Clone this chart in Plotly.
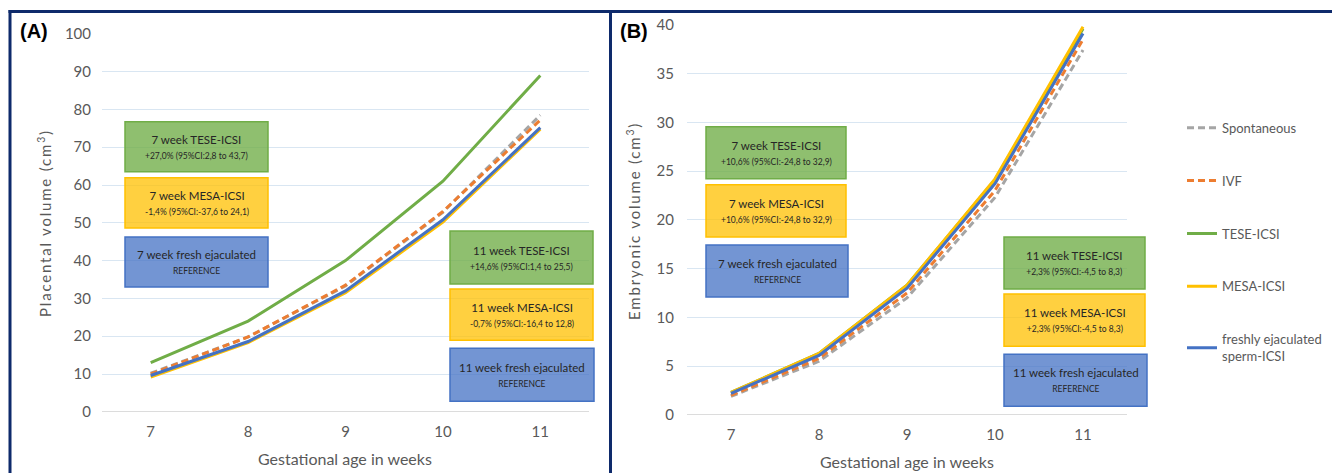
import plotly.graph_objects as go

W, H = 1332, 473

weeks = [7, 8, 9, 10, 11]
series_names = ["Spontaneous", "IVF", "TESE-ICSI", "MESA-ICSI", "freshly ejaculated<br>sperm-ICSI"]
series_colors = ["#A5A5A5", "#ED7D31", "#70AD47", "#FFC000", "#4472C4"]
series_dash = ["7px,4px", "7px,4px", "solid", "solid", "solid"]

# Panel A: placental volume (cm3)
plac_spont = [10.2, 19.8, 33.3, 52.8, 78.5]
plac_ivf = [10.0, 19.8, 33.5, 53.0, 77.2]
plac_tese = [13.0, 24.0, 40.0, 61.0, 89.0]
plac_mesa = [9.2, 18.3, 31.5, 50.2, 74.8]
plac_fresh = [9.6, 18.6, 32.0, 50.8, 75.2]

# Panel B: embryonic volume (cm3)
emb_spont = [1.9, 5.5, 12.0, 22.3, 37.4]
emb_ivf = [2.0, 5.8, 12.5, 23.0, 38.5]
emb_tese = [2.3, 6.3, 13.3, 24.1, 39.6]
emb_mesa = [2.3, 6.3, 13.3, 24.2, 39.8]
emb_fresh = [2.2, 6.1, 13.0, 23.7, 39.1]

plac = [plac_spont, plac_ivf, plac_tese, plac_mesa, plac_fresh]
emb = [emb_spont, emb_ivf, emb_tese, emb_mesa, emb_fresh]

box_texts_A = [
    ("7 week TESE-ICSI", "+27,0% (95%CI:2,8 to 43,7)"),
    ("7 week MESA-ICSI", "-1,4% (95%CI:-37,6 to 24,1)"),
    ("7 week fresh ejaculated", "REFERENCE"),
    ("11 week TESE-ICSI", "+14,6% (95%CI:1,4 to 25,5)"),
    ("11 week MESA-ICSI", "-0,7% (95%CI:-16,4 to 12,8)"),
    ("11 week fresh ejaculated", "REFERENCE"),
]
box_texts_B = [
    ("7 week TESE-ICSI", "+10,6% (95%CI:-24,8 to 32,9)"),
    ("7 week MESA-ICSI", "+10,6% (95%CI:-24,8 to 32,9)"),
    ("7 week fresh ejaculated", "REFERENCE"),
    ("11 week TESE-ICSI", "+2,3% (95%CI:-4,5 to 8,3)"),
    ("11 week MESA-ICSI", "+2,3% (95%CI:-4,5 to 8,3)"),
    ("11 week fresh ejaculated", "REFERENCE"),
]

def X(px):
    return px / W

def Y(py):
    # compensates the vertical placement observed in the rendered page
    return 1 - ((py - 9.5) / 0.96) / H

FONT = "Lato"
GREY = "#595959"
GRID = "#D9E6F2"

fig = go.Figure()

for i in range(5):
    fig.add_trace(go.Scatter(
        x=weeks, y=plac[i], mode="lines", name=series_names[i],
        line=dict(color=series_colors[i], width=3, dash=series_dash[i]),
        xaxis="x", yaxis="y", showlegend=False, legendgroup=f"g{i}"))
for i in range(5):
    fig.add_trace(go.Scatter(
        x=weeks, y=emb[i], mode="lines", name=series_names[i],
        line=dict(color=series_colors[i], width=3, dash=series_dash[i]),
        xaxis="x2", yaxis="y2", showlegend=True, legendgroup=f"g{i}"))

axis_common = dict(showline=False, zeroline=False, ticks="",
                   tickfont=dict(family=FONT, size=15, color=GREY))

fig.update_layout(
    width=W, height=H,
    margin=dict(l=0, r=0, t=0, b=0),
    paper_bgcolor="white", plot_bgcolor="white",
    font=dict(family=FONT, color=GREY),
    xaxis=dict(domain=[X(102), X(589)], range=[6.5, 11.5], tickvals=weeks,
               showgrid=False, anchor="y", ticklabelstandoff=9, **axis_common),
    yaxis=dict(domain=[Y(410.5), Y(33.3)], range=[0, 100], dtick=10,
               showgrid=True, gridcolor=GRID, gridwidth=1, anchor="x",
               ticklabelstandoff=10, **axis_common),
    xaxis2=dict(domain=[X(687), X(1127)], range=[6.5, 11.5], tickvals=weeks,
                showgrid=False, anchor="y2", ticklabelstandoff=9, **axis_common),
    yaxis2=dict(domain=[Y(413.6), Y(24.2)], range=[0, 40], dtick=5,
                showgrid=True, gridcolor=GRID, gridwidth=1, anchor="x2",
                ticklabelstandoff=12, **axis_common),
    legend=dict(x=X(1182), y=Y(112), xanchor="left", yanchor="top",
                tracegroupgap=33, font=dict(family=FONT, size=13, color=GREY),
                bgcolor="rgba(0,0,0,0)", itemwidth=30),
    showlegend=True,
)

shapes = []
shapes.append(dict(type="line", xref="x", yref="y", x0=6.5, x1=11.5, y0=0, y1=0,
                   line=dict(color="#D0D0D0", width=1.5), layer="below"))
shapes.append(dict(type="line", xref="x2", yref="y2", x0=6.5, x1=11.5, y0=0, y1=0,
                   line=dict(color="#D0D0D0", width=1.5), layer="below"))

fills = [("rgba(112,173,71,0.78)", "#70AD47"),
         ("rgba(255,192,0,0.75)", "#FFC000"),
         ("rgba(68,114,196,0.75)", "#4472C4")]

boxes_A = [(125, 121, 268, 171), (125, 177, 268, 227), (125, 236, 268, 286),
           (450, 230, 593, 283), (450, 288, 593, 339), (450, 347, 594, 400)]
boxes_B = [(706, 126, 846, 178), (706, 184, 846, 236), (706, 244, 848, 296),
           (1004, 236, 1145, 288), (1004, 293, 1145, 345), (1004, 353, 1147, 405)]

annotations = []
for boxes, texts in ((boxes_A, box_texts_A), (boxes_B, box_texts_B)):
    for k, (b, t) in enumerate(zip(boxes, texts)):
        fc, lc = fills[k % 3]
        x0, y0, x1, y1 = b
        shapes.append(dict(type="rect", xref="paper", yref="paper",
                           x0=X(x0), x1=X(x1), y0=Y(y1), y1=Y(y0),
                           fillcolor=fc, line=dict(color=lc, width=1.5), layer="above"))
        annotations.append(dict(
            xref="paper", yref="paper", x=X((x0 + x1) / 2), y=Y((y0 + y1) / 2),
            xanchor="center", yanchor="middle", showarrow=False,
            text=f"{t[0]}<br><span style='font-size:8.5px'>{t[1]}</span>",
            font=dict(family=FONT, size=11.5, color="#262626")))

NAVY = "#0E2A6B"
shapes.append(dict(type="line", xref="paper", yref="paper", x0=X(8.5), x1=1.01, y0=Y(11), y1=Y(11),
                   line=dict(color=NAVY, width=3)))
shapes.append(dict(type="line", xref="paper", yref="paper", x0=X(10), x1=X(10), y0=-0.05, y1=Y(9.5),
                   line=dict(color=NAVY, width=3)))
shapes.append(dict(type="line", xref="paper", yref="paper", x0=X(610.5), x1=X(610.5), y0=-0.05, y1=Y(9.5),
                   line=dict(color=NAVY, width=3)))

YT = "<span style='letter-spacing:1.8px'>{}</span>"
common_ann = dict(xref="paper", yref="paper", showarrow=False, xanchor="center", yanchor="middle")
annotations += [
    dict(x=X(34), y=Y(30), text="<b>(A)</b>",
         font=dict(family="Liberation Sans", size=20, color="black"), **common_ann),
    dict(x=X(634), y=Y(30), text="<b>(B)</b>",
         font=dict(family="Liberation Sans", size=20, color="black"), **common_ann),
    dict(x=X(45), y=Y(222), text=YT.format("Placental volume (cm<sup>3</sup>)"), textangle=-90,
         font=dict(family=FONT, size=15, color=GREY), **common_ann),
    dict(x=X(634), y=Y(220), text=YT.format("Embryonic volume (cm<sup>3</sup>)"), textangle=-90,
         font=dict(family=FONT, size=15, color=GREY), **common_ann),
    dict(x=X(345), y=Y(457), text="Gestational age in weeks",
         font=dict(family=FONT, size=16, color=GREY), **common_ann),
    dict(x=X(907), y=Y(460), text="Gestational age in weeks",
         font=dict(family=FONT, size=16, color=GREY), **common_ann),
]

fig.update_layout(shapes=shapes, annotations=annotations)
fig.write_html(
    "out.html",
    config={"displayModeBar": False},
    post_script="document.body.style.margin='0px';document.body.style.padding='0px';"
                "document.documentElement.style.overflow='hidden';",
)
